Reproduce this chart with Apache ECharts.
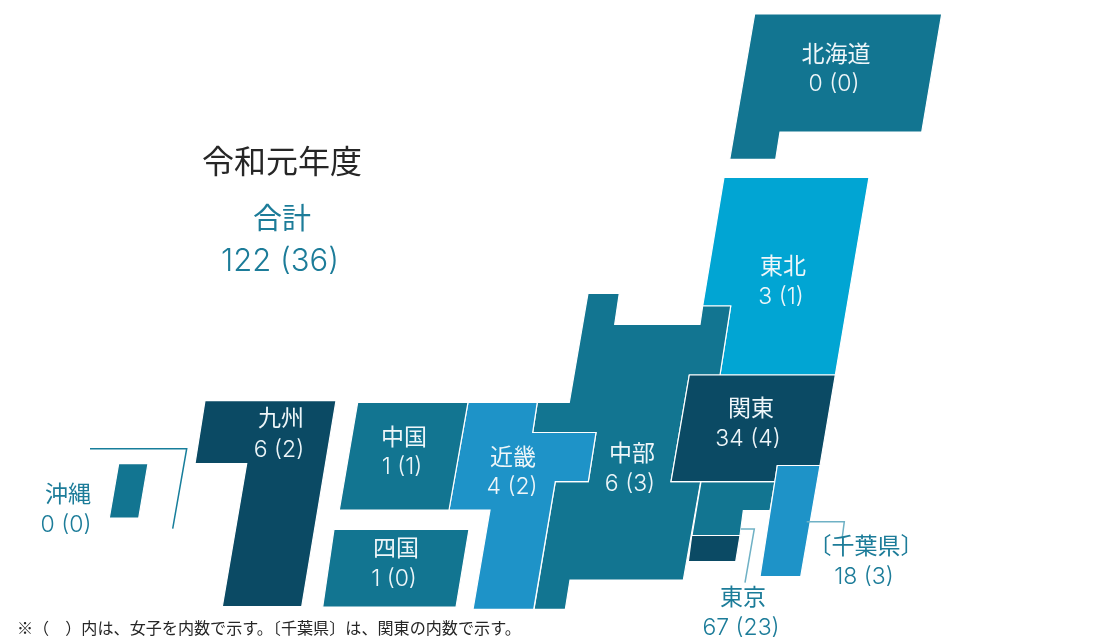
<!DOCTYPE html>
<html lang="ja">
<head>
<meta charset="utf-8">
<title>令和元年度 地域別人数</title>
<script src="https://cdn.jsdelivr.net/npm/echarts@6/dist/echarts.min.js"></script>
<style>
  html, body { margin: 0; padding: 0; background: #fff; }
  #chart { width: 1118px; height: 640px; }
</style>
</head>
<body>
<div id="chart"></div>
<script>
// 地域ごとの人数（括弧内は女子の内数）
const regions = ['北海道', '東北', '関東', '中部', '近畿', '中国', '四国', '九州', '沖縄', '東京', '〔千葉県〕'];
const totals = [0, 3, 34, 6, 4, 1, 1, 6, 0, 67, 18];
const women = [0, 1, 4, 3, 2, 1, 0, 2, 0, 23, 3];
const grandTotal = 122;
const grandWomen = 36;
const yearTitle = '令和元年度';
const totalTitle = '合計';
const footnote = '※（　）内は、女子を内数で示す。〔千葉県〕は、関東の内数で示す。';

// 色
const TEAL = '#127591';
const SKY = '#01a5d3';
const NAVY = '#0b4a64';
const BLUE = '#1e93c8';
const INK = '#262626';
const LABEL_TEAL = '#1c7c99';

// 模式図の各地域の輪郭（軸座標）
const tiles = [
  { fill: TEAL, path: [[754.7, 14], [941.7, 14], [921.7, 132], [780, 132], [775.7, 159.3], [729.7, 159.3]] },
  { fill: SKY, path: [[724, 177.3], [869, 177.3], [835.3, 375], [720, 375], [730.7, 306], [702.7, 306]] },
  { fill: TEAL, path: [[588, 293.3], [619.3, 293.3], [614.7, 324.3], [700, 324.3], [702.7, 306], [730.7, 306], [720, 375], [689.3, 375], [671, 481.7], [700.7, 481.7], [683.3, 580], [570, 580], [565.3, 609.3], [534, 609.3], [555.3, 481.7], [588.3, 481.7], [596, 432.5], [532.7, 432.5], [537.3, 402.3], [569.3, 402.3]] },
  { fill: TEAL, path: [[701, 481.7], [775, 481.7], [770, 510.7], [743.3, 510.7], [740, 535.5], [692, 535.5]] },
  { fill: NAVY, path: [[691.7, 535.5], [740, 535.5], [735.7, 561.7], [688.3, 561.7]] },
  { fill: NAVY, path: [[689.3, 375], [835.3, 375], [820, 465.5], [777.3, 465.5], [775, 481.7], [671, 481.7]] },
  { fill: BLUE, path: [[777.3, 465.5], [820, 465.5], [800.7, 576.7], [760, 576.7]] },
  { fill: BLUE, path: [[468, 402.3], [537.3, 402.3], [532.7, 432.5], [596, 432.5], [588.3, 481.7], [555.3, 481.7], [533.7, 609.3], [473, 609.3], [490, 510], [449, 510]] },
  { fill: TEAL, path: [[357.7, 402.3], [468, 402.3], [449, 510], [339.3, 510]] },
  { fill: TEAL, path: [[334, 529.3], [469, 529.3], [456, 607], [322.7, 607]] },
  { fill: NAVY, path: [[205, 400.7], [336, 400.7], [301.7, 606.7], [222.3, 606.7], [246.7, 463.7], [195, 463.7]] },
  { fill: TEAL, path: [[118.7, 463.7], [148, 463.7], [138.7, 518], [109.3, 518]] }
];

// 引き出し線
const leaders = [
  { stroke: '#177e9b', path: [[90, 448.7], [186.7, 448.7], [172.7, 528.7]] },
  { stroke: '#6fb1c5', path: [[740.7, 529], [754.3, 529], [745, 582.7]] },
  { stroke: '#6fb1c5', path: [[806.7, 521.7], [844.3, 521.7], [842.3, 537]] }
];

// 地域名・人数の表示位置と色（regions と同じ順）
const labelAnchors = [
  [836, 55, 834, 84], [783, 267, 781, 297], [751, 409, 748, 439], [632, 454, 630, 484],
  [513, 458, 512, 487], [404, 438, 402, 467], [396, 549, 394, 579], [281, 419, 279, 450],
  [68, 495, 66, 525], [743, 598, 741, 628], [866, 547, 864, 577]
];
const labelColors = ['#eef6f9', '#eef6f9', '#eef6f9', '#eef6f9', '#eef6f9', '#eef6f9', '#eef6f9', '#eef6f9', LABEL_TEAL, LABEL_TEAL, LABEL_TEAL];

const FONT = 'Inter, "Noto Sans CJK JP", sans-serif';
const FOOT_FONT = '"Noto Sans CJK JP", sans-serif';

const countText = (t, w) => t + ' (' + w + ')';

const headings = [
  { text: yearTitle, at: [282, 163], size: 32, weight: 400, color: INK, align: 'center', font: FONT },
  { text: totalTitle, at: [282, 220], size: 29, weight: 400, color: LABEL_TEAL, align: 'center', font: FONT },
  { text: countText(grandTotal, grandWomen), at: [280, 262], size: 31, weight: 300, color: LABEL_TEAL, align: 'center', font: FONT },
  { text: footnote, at: [17, 628], size: 16.1, weight: 400, color: INK, align: 'left', font: FOOT_FONT }
];

const regionLabels = regions.flatMap((name, i) => {
  const a = labelAnchors[i];
  return [
    { text: name, at: [a[0], a[1]], size: 23, weight: 400, color: labelColors[i], align: 'center', font: FONT },
    { text: countText(totals[i], women[i]), at: [a[2], a[3]], size: 23, weight: 300, color: labelColors[i], align: 'center', font: FONT }
  ];
});
const textItems = headings.concat(regionLabels);

const chart = echarts.init(document.getElementById('chart'), null, { renderer: 'canvas' });

const toPixels = (api, path) => path.map(p => api.coord(p));

chart.setOption({
  animation: false,
  backgroundColor: '#ffffff',
  grid: { left: 0, right: 0, top: 0, bottom: 0 },
  xAxis: { type: 'value', min: 0, max: 1118, show: false },
  yAxis: { type: 'value', min: 0, max: 640, inverse: true, show: false },
  series: [
    {
      type: 'custom',
      coordinateSystem: 'cartesian2d',
      silent: true,
      z: 1,
      data: tiles.map((t, i) => [i]),
      renderItem: (params, api) => {
        const tile = tiles[api.value(0)];
        return {
          type: 'polygon',
          shape: { points: toPixels(api, tile.path) },
          style: { fill: tile.fill, stroke: '#ffffff', lineWidth: 1.2 }
        };
      }
    },
    {
      type: 'custom',
      coordinateSystem: 'cartesian2d',
      silent: true,
      z: 2,
      data: leaders.map((l, i) => [i]),
      renderItem: (params, api) => {
        const line = leaders[api.value(0)];
        return {
          type: 'polyline',
          shape: { points: toPixels(api, line.path) },
          style: { fill: null, stroke: line.stroke, lineWidth: 1.5 }
        };
      }
    },
    {
      type: 'custom',
      coordinateSystem: 'cartesian2d',
      silent: true,
      z: 3,
      data: textItems.map((t, i) => [i]),
      renderItem: (params, api) => {
        const item = textItems[api.value(0)];
        const [x, y] = api.coord(item.at);
        return {
          type: 'text',
          x, y,
          style: {
            text: item.text,
            fill: item.color,
            font: item.weight + ' ' + item.size + 'px ' + item.font,
            align: item.align,
            verticalAlign: 'middle'
          }
        };
      }
    }
  ]
});
</script>
</body>
</html>
